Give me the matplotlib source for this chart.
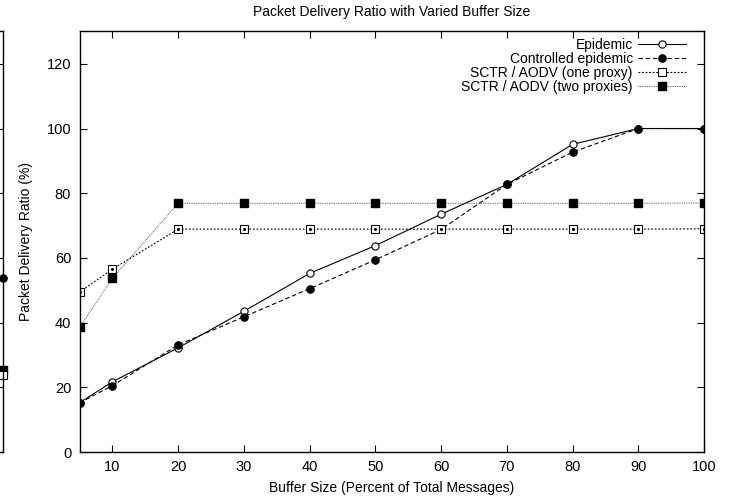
import matplotlib
matplotlib.use("Agg")
import matplotlib.pyplot as plt

plt.rcParams['font.family'] = ['Liberation Sans', 'DejaVu Sans']

# ---- data ----
buffer_size = [5, 10, 20, 30, 40, 50, 60, 70, 80, 90, 100]
epidemic = [15.2, 21.7, 32.2, 43.5, 55.2, 63.8, 73.5, 82.7, 95.1, 100, 100]
controlled = [15.2, 20.5, 33.1, 41.8, 50.5, 59.4, 68.8, 82.7, 92.7, 100, 100]
sctr_one = [49.4, 56.5, 68.9, 68.9, 68.9, 68.9, 68.9, 68.9, 68.9, 68.9, 69.0]
sctr_two = [38.5, 53.7, 76.9, 76.9, 76.9, 76.9, 76.9, 76.9, 76.9, 76.9, 77.0]

# neighbouring (cropped) panel: only its last points are visible
left_x = [100]
left_controlled = [53.8]
left_two = [25.3]
left_one = [23.8]

labels = ["Epidemic", "Controlled epidemic", "SCTR / AODV (one proxy)", "SCTR / AODV (two proxies)"]
x_ticks = [10, 20, 30, 40, 50, 60, 70, 80, 90, 100]
y_ticks = [0, 20, 40, 60, 80, 100, 120]

W, H = 738, 498
fig = plt.figure(figsize=(W / 100, H / 100), dpi=100)

L, R, T, B = 79.5, 704, 31.5, 452
ax = fig.add_axes([L / W, 1 - B / H, (R - L) / W, (B - T) / H])

lw = 0.8
ms = 5.2
ax.plot(buffer_size, epidemic, color='black', lw=lw, ls='-', marker='o', ms=ms,
        mfc='white', mec='black', mew=0.8, label=labels[0])
ax.plot(buffer_size, controlled, color='black', lw=lw, dashes=(4, 2.5), marker='o', ms=ms,
        mfc='black', mec='black', label=labels[1])
ax.plot(buffer_size, sctr_one, color='black', lw=lw, dashes=(1.6, 1.6), marker='s', ms=ms + 0.6,
        mfc='white', mec='black', mew=0.8, label=labels[2])
ax.plot(buffer_size, sctr_one, ls='none', marker='o', ms=1.2, color='black')
ax.plot(buffer_size, sctr_two, color='#444444', lw=0.7, dashes=(0.8, 1.0), marker='s', ms=ms + 1.2,
        mfc='black', mec='black', label=labels[3])

ax.set_xlim(5, 100)
ax.set_ylim(0, 130)
ax.set_xticks(x_ticks)
ax.set_yticks(y_ticks)
ax.tick_params(direction='in', length=5, width=0.8, top=True, right=True,
               labelsize=10.5, pad=6)
for s in ax.spines.values():
    s.set_linewidth(1.0)

ax.set_title("Packet Delivery Ratio with Varied Buffer Size", fontsize=10, pad=11)
ax.set_xlabel("Buffer Size (Percent of Total Messages)", fontsize=10, labelpad=5)
ax.set_ylabel("Packet Delivery Ratio (%)", fontsize=10, labelpad=10)

leg = ax.legend(loc='upper right', frameon=False, markerfirst=False, fontsize=10,
                handlelength=3.4, handletextpad=0.4, labelspacing=0.0,
                borderaxespad=0.3, bbox_to_anchor=(0.986, 1.007))

# cropped neighbouring panel at the far left
axl = fig.add_axes([-0.6, 1 - B / H, 0.6 + 3 / W, (B - T) / H])
axl.plot(left_x, left_controlled, ls='none', marker='o', ms=ms, color='black', clip_on=False)
axl.plot(left_x, left_two, ls='none', marker='s', ms=ms + 1.2, color='black', clip_on=False)
axl.plot(left_x, left_one, ls='none', marker='s', ms=ms + 0.6, mfc='white', mec='black',
         mew=0.8, clip_on=False)
axl.set_xlim(5, 100)
axl.set_ylim(0, 130)
axl.set_yticks(y_ticks)
axl.tick_params(direction='in', length=5, width=0.8, right=True, left=False,
                labelleft=False, labelbottom=False, bottom=False)
for s in axl.spines.values():
    s.set_linewidth(1.0)

fig.savefig("out.png", dpi=100)
